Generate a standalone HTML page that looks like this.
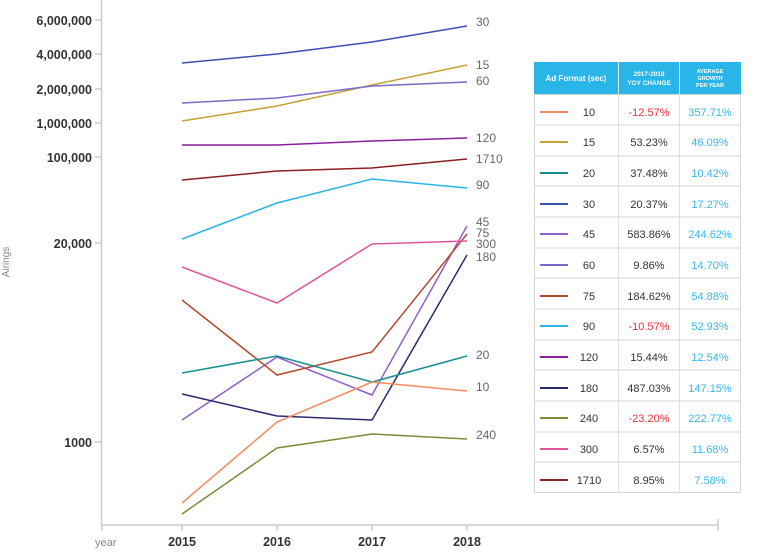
<!DOCTYPE html>
<html><head><meta charset="utf-8"><style>
html,body{margin:0;padding:0;background:#fff;}
svg{display:block;font-family:"Liberation Sans",sans-serif;}
</style></head><body>
<svg width="774" height="558" viewBox="0 0 774 558" xmlns="http://www.w3.org/2000/svg">
<g stroke="#ccc" stroke-width="1.5" fill="none">
<line x1="101.5" y1="0" x2="101.5" y2="525"/>
<line x1="101" y1="525" x2="718" y2="525"/>
<line x1="718" y1="519" x2="718" y2="531"/>
<line x1="95" y1="20" x2="101" y2="20"/><line x1="95" y1="54" x2="101" y2="54"/>
<line x1="95" y1="89" x2="101" y2="89"/><line x1="95" y1="123" x2="101" y2="123"/>
<line x1="95" y1="157" x2="101" y2="157"/><line x1="95" y1="243" x2="101" y2="243"/>
<line x1="95" y1="442" x2="101" y2="442"/>
<line x1="102" y1="525" x2="102" y2="531"/><line x1="182" y1="525" x2="182" y2="531"/>
<line x1="277" y1="525" x2="277" y2="531"/><line x1="372" y1="525" x2="372" y2="531"/>
<line x1="467" y1="525" x2="467" y2="531"/>
</g>
<g font-size="12.5" font-weight="bold" fill="#333" text-anchor="end">
<text x="92" y="25">6,000,000</text><text x="92" y="59">4,000,000</text>
<text x="92" y="94">2,000,000</text><text x="92" y="128">1,000,000</text>
<text x="92" y="162">100,000</text><text x="92" y="248">20,000</text>
<text x="92" y="447">1000</text>
</g>
<text x="9" y="262" font-size="10" fill="#888" transform="rotate(-90 9 262)" text-anchor="middle">Airings</text>
<text x="95" y="546" font-size="11" fill="#888">year</text>
<g font-size="12.5" font-weight="bold" fill="#333" text-anchor="middle">
<text x="182" y="546">2015</text><text x="277" y="546">2016</text>
<text x="372" y="546">2017</text><text x="467" y="546">2018</text>
</g>
<g fill="none" stroke-width="1.5">
<polyline stroke="#3b4fb0" points="182,63 277,54 372,42 467,26"/>
<polyline stroke="#c5a032" points="182,121 277,106 372,85 467,65"/>
<polyline stroke="#7b6cc7" points="182,103 277,98 372,86 467,82"/>
<polyline stroke="#8a1fa0" points="182,145 277,145 372,141 467,138"/>
<polyline stroke="#8a2020" points="182,180 277,171 372,168 467,159"/>
<polyline stroke="#29b5e8" points="182,239 277,203 372,179 467,188"/>
<polyline stroke="#8e5fc9" points="182,420 277,357 372,395 467,226"/>
<polyline stroke="#b34a30" points="182,300 277,375 372,352 467,234"/>
<polyline stroke="#e0559a" points="182,267 277,303 372,244 467,241"/>
<polyline stroke="#2a2a6e" points="182,394 277,416 372,420 467,255"/>
<polyline stroke="#178f8f" points="182,373 277,356 372,382 467,356"/>
<polyline stroke="#f98a5e" points="182,503 277,422 372,382 467,391"/>
<polyline stroke="#7f8a3a" points="182,514 277,448 372,434 467,439"/>
</g>
<g font-size="12" fill="#666">
<text x="476" y="26">30</text><text x="476" y="69">15</text><text x="476" y="85">60</text>
<text x="476" y="142">120</text><text x="476" y="163">1710</text><text x="476" y="189">90</text>
<text x="476" y="226">45</text><text x="476" y="237">75</text><text x="476" y="248">300</text>
<text x="476" y="261">180</text><text x="476" y="359">20</text><text x="476" y="391">10</text>
<text x="476" y="439">240</text>
</g>
<rect x="534" y="62" width="207" height="32" fill="#29b5e8"/>
<g fill="#fff" font-weight="bold" text-anchor="middle">
<text x="576" y="81" font-size="8">Ad Format (sec)</text>
<text x="649" y="76" font-size="6.5">2017-2018</text><text x="649" y="85" font-size="6.5">YOY CHANGE</text>
<text x="710" y="73" font-size="5.5">AVERAGE</text><text x="710" y="80" font-size="5.5">GROWTH</text><text x="710" y="87" font-size="5.5">PER YEAR</text>
</g>
<g stroke="#d6d6d6" stroke-width="1" fill="none">
<rect x="534.5" y="94.5" width="206" height="398"/>
<line x1="618.5" y1="62" x2="618.5" y2="493" stroke="#e0e0e0"/>
<line x1="679.5" y1="62" x2="679.5" y2="493" stroke="#e0e0e0"/>
<line x1="534" y1="125" x2="741" y2="125"/><line x1="534" y1="156" x2="741" y2="156"/>
<line x1="534" y1="186" x2="741" y2="186"/><line x1="534" y1="217" x2="741" y2="217"/>
<line x1="534" y1="248" x2="741" y2="248"/><line x1="534" y1="278" x2="741" y2="278"/>
<line x1="534" y1="309" x2="741" y2="309"/><line x1="534" y1="340" x2="741" y2="340"/>
<line x1="534" y1="370" x2="741" y2="370"/><line x1="534" y1="401" x2="741" y2="401"/>
<line x1="534" y1="432" x2="741" y2="432"/><line x1="534" y1="462" x2="741" y2="462"/>
</g>
<g font-size="11" text-anchor="middle">
<g stroke-width="2">
<line x1="540" y1="112" x2="568" y2="112" stroke="#f98a5e"/>
<line x1="540" y1="142" x2="568" y2="142" stroke="#c5a032"/>
<line x1="540" y1="173" x2="568" y2="173" stroke="#178f8f"/>
<line x1="540" y1="204" x2="568" y2="204" stroke="#3b4fb0"/>
<line x1="540" y1="234" x2="568" y2="234" stroke="#8e5fc9"/>
<line x1="540" y1="265" x2="568" y2="265" stroke="#7b6cc7"/>
<line x1="540" y1="296" x2="568" y2="296" stroke="#b34a30"/>
<line x1="540" y1="326" x2="568" y2="326" stroke="#29b5e8"/>
<line x1="540" y1="357" x2="568" y2="357" stroke="#8a1fa0"/>
<line x1="540" y1="388" x2="568" y2="388" stroke="#2a2a6e"/>
<line x1="540" y1="418" x2="568" y2="418" stroke="#7f8a3a"/>
<line x1="540" y1="449" x2="568" y2="449" stroke="#e0559a"/>
<line x1="540" y1="480" x2="568" y2="480" stroke="#8a2020"/>
</g>
<g fill="#333">
<text x="589" y="116">10</text><text x="589" y="146">15</text><text x="589" y="177">20</text>
<text x="589" y="208">30</text><text x="589" y="238">45</text><text x="589" y="269">60</text>
<text x="589" y="300">75</text><text x="589" y="330">90</text><text x="589" y="361">120</text>
<text x="589" y="392">180</text><text x="589" y="422">240</text><text x="589" y="453">300</text>
<text x="589" y="484">1710</text>
</g>
<g fill="#333">
<text x="649" y="116" fill="#f0303a">-12.57%</text><text x="649" y="146">53.23%</text>
<text x="649" y="177">37.48%</text><text x="649" y="208">20.37%</text>
<text x="649" y="238">583.86%</text><text x="649" y="269">9.86%</text>
<text x="649" y="300">184.62%</text><text x="649" y="330" fill="#f0303a">-10.57%</text>
<text x="649" y="361">15.44%</text><text x="649" y="392">487.03%</text>
<text x="649" y="422" fill="#f0303a">-23.20%</text><text x="649" y="453">6.57%</text>
<text x="649" y="484">8.95%</text>
</g>
<g fill="#35b8ee">
<text x="710" y="116">357.71%</text><text x="710" y="146">46.09%</text>
<text x="710" y="177">10.42%</text><text x="710" y="208">17.27%</text>
<text x="710" y="238">244.62%</text><text x="710" y="269">14.70%</text>
<text x="710" y="300">54.88%</text><text x="710" y="330">52.93%</text>
<text x="710" y="361">12.54%</text><text x="710" y="392">147.15%</text>
<text x="710" y="422">222.77%</text><text x="710" y="453">11.68%</text>
<text x="710" y="484">7.58%</text>
</g>
</g>
</svg>
</body></html>
